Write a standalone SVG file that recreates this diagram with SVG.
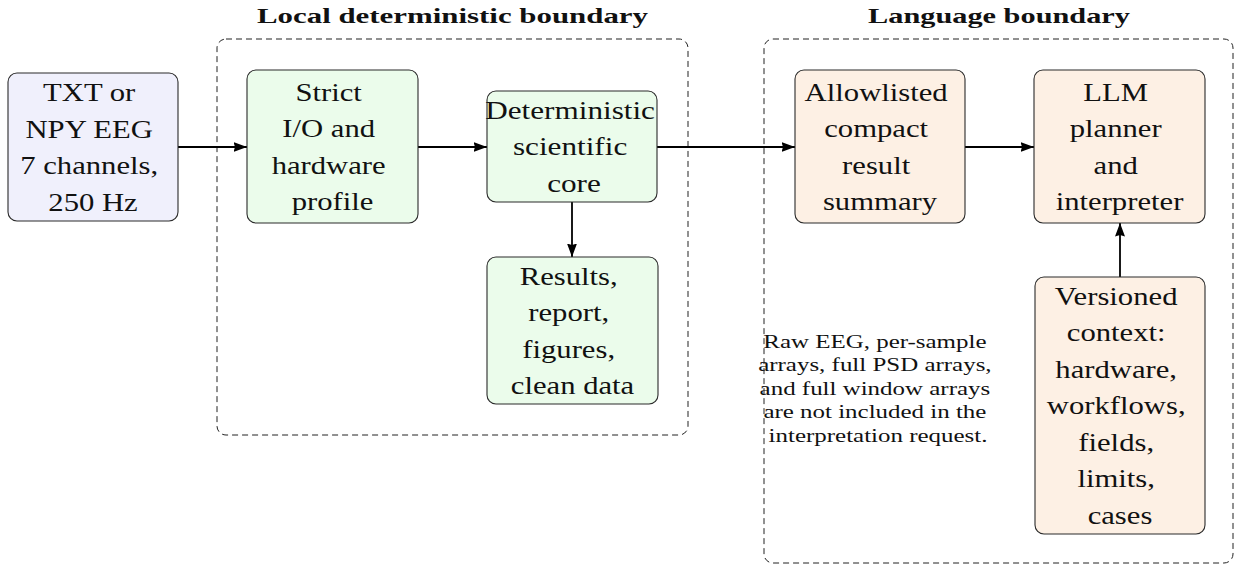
<svg xmlns="http://www.w3.org/2000/svg" width="1237" height="566" viewBox="0 0 1237 566">
<style>
  .node rect { stroke: #2b2b2b; stroke-width: 1.1; }
  .in rect { fill: #f0f0fc; }
  .gr rect { fill: #ebfceb; }
  .or rect { fill: #fdf0e4; }
  .lbl { font-family: "Liberation Serif", "Times New Roman", serif; font-size: 26px; fill: #111; text-anchor: middle; }
  .note { font-family: "Liberation Serif", "Times New Roman", serif; font-size: 19.5px; fill: #111; text-anchor: middle; }
  .title { font-family: "Liberation Serif", "Times New Roman", serif; font-size: 22px; font-weight: bold; fill: #111; text-anchor: middle; }
  .bound { fill: none; stroke: #222; stroke-width: 1; stroke-dasharray: 6 4; }
  .conn line { stroke: #000; stroke-width: 1.8; fill: none; marker-end: url(#arr); }
</style>
<defs>
  <marker id="arr" markerUnits="userSpaceOnUse" markerWidth="15" markerHeight="11" refX="13.5" refY="5" orient="auto">
    <path d="M0,0 L13.5,5 L0,10 L1.5,5 Z" fill="#000"/>
  </marker>
</defs>

<g id="boundaries">
  <rect class="bound" x="217" y="39" width="471" height="396" rx="9"/>
  <rect class="bound" x="764" y="39" width="469" height="524" rx="9"/>
  <text class="title" x="452.5" y="23" textLength="391" lengthAdjust="spacingAndGlyphs">Local deterministic boundary</text>
  <text class="title" x="999" y="23" textLength="262" lengthAdjust="spacingAndGlyphs">Language boundary</text>
</g>

<g id="connectors" class="conn">
  <line x1="178" y1="147" x2="247" y2="147"/>
  <line x1="418" y1="147" x2="487" y2="147"/>
  <line x1="657" y1="147" x2="795" y2="147"/>
  <line x1="965" y1="147" x2="1034" y2="147"/>
  <line x1="572" y1="202" x2="572" y2="257"/>
  <line x1="1120" y1="277" x2="1120" y2="223"/>
</g>

<g id="input" class="node in">
  <rect x="8" y="73" width="170" height="148" rx="9"/>
  <text class="lbl" transform="translate(93 0) scale(1.18 1)">
    <tspan x="0" y="101.5">TXT or</tspan>
    <tspan x="0" y="138">NPY EEG</tspan>
    <tspan x="0" y="174.5">7 channels,</tspan>
    <tspan x="0" y="211">250 Hz</tspan>
  </text>
</g>

<g id="strict" class="node gr">
  <rect x="247" y="70" width="171" height="153" rx="9"/>
  <text class="lbl" transform="translate(332.5 0) scale(1.18 1)">
    <tspan x="0" y="101">Strict</tspan>
    <tspan x="0" y="137.5">I/O and</tspan>
    <tspan x="0" y="174">hardware</tspan>
    <tspan x="0" y="210.5">profile</tspan>
  </text>
</g>

<g id="core" class="node gr">
  <rect x="487" y="91" width="170" height="111" rx="9"/>
  <text class="lbl" transform="translate(574 0) scale(1.2 1)">
    <tspan x="0" y="119">Deterministic</tspan>
    <tspan x="0" y="155.5">scientific</tspan>
    <tspan x="0" y="192">core</tspan>
  </text>
</g>

<g id="results" class="node gr">
  <rect x="487" y="257" width="171" height="147" rx="9"/>
  <text class="lbl" transform="translate(572.5 0) scale(1.18 1)">
    <tspan x="0" y="285">Results,</tspan>
    <tspan x="0" y="321.5">report,</tspan>
    <tspan x="0" y="358">figures,</tspan>
    <tspan x="0" y="394.5">clean data</tspan>
  </text>
</g>

<g id="summary" class="node or">
  <rect x="795" y="70" width="170" height="153" rx="9"/>
  <text class="lbl" transform="translate(880 0) scale(1.18 1)">
    <tspan x="0" y="101">Allowlisted</tspan>
    <tspan x="0" y="137.5">compact</tspan>
    <tspan x="0" y="174">result</tspan>
    <tspan x="0" y="210.5">summary</tspan>
  </text>
</g>

<g id="llm" class="node or">
  <rect x="1034" y="70" width="171" height="153" rx="9"/>
  <text class="lbl" transform="translate(1119.5 0) scale(1.18 1)">
    <tspan x="0" y="101">LLM</tspan>
    <tspan x="0" y="137.5">planner</tspan>
    <tspan x="0" y="174">and</tspan>
    <tspan x="0" y="210.5">interpreter</tspan>
  </text>
</g>

<g id="context" class="node or">
  <rect x="1035" y="277" width="170" height="257" rx="9"/>
  <text class="lbl" transform="translate(1120 0) scale(1.18 1)">
    <tspan x="0" y="305">Versioned</tspan>
    <tspan x="0" y="341.5">context:</tspan>
    <tspan x="0" y="378">hardware,</tspan>
    <tspan x="0" y="414.5">workflows,</tspan>
    <tspan x="0" y="451">fields,</tspan>
    <tspan x="0" y="487.5">limits,</tspan>
    <tspan x="0" y="524">cases</tspan>
  </text>
</g>

<g id="note">
  <text class="note" transform="translate(878 0) scale(1.28 1)">
    <tspan x="0" y="348">Raw EEG, per-sample</tspan>
    <tspan x="0" y="371.5">arrays, full PSD arrays,</tspan>
    <tspan x="0" y="395">and full window arrays</tspan>
    <tspan x="0" y="418.5">are not included in the</tspan>
    <tspan x="0" y="442">interpretation request.</tspan>
  </text>
</g>
</svg>
